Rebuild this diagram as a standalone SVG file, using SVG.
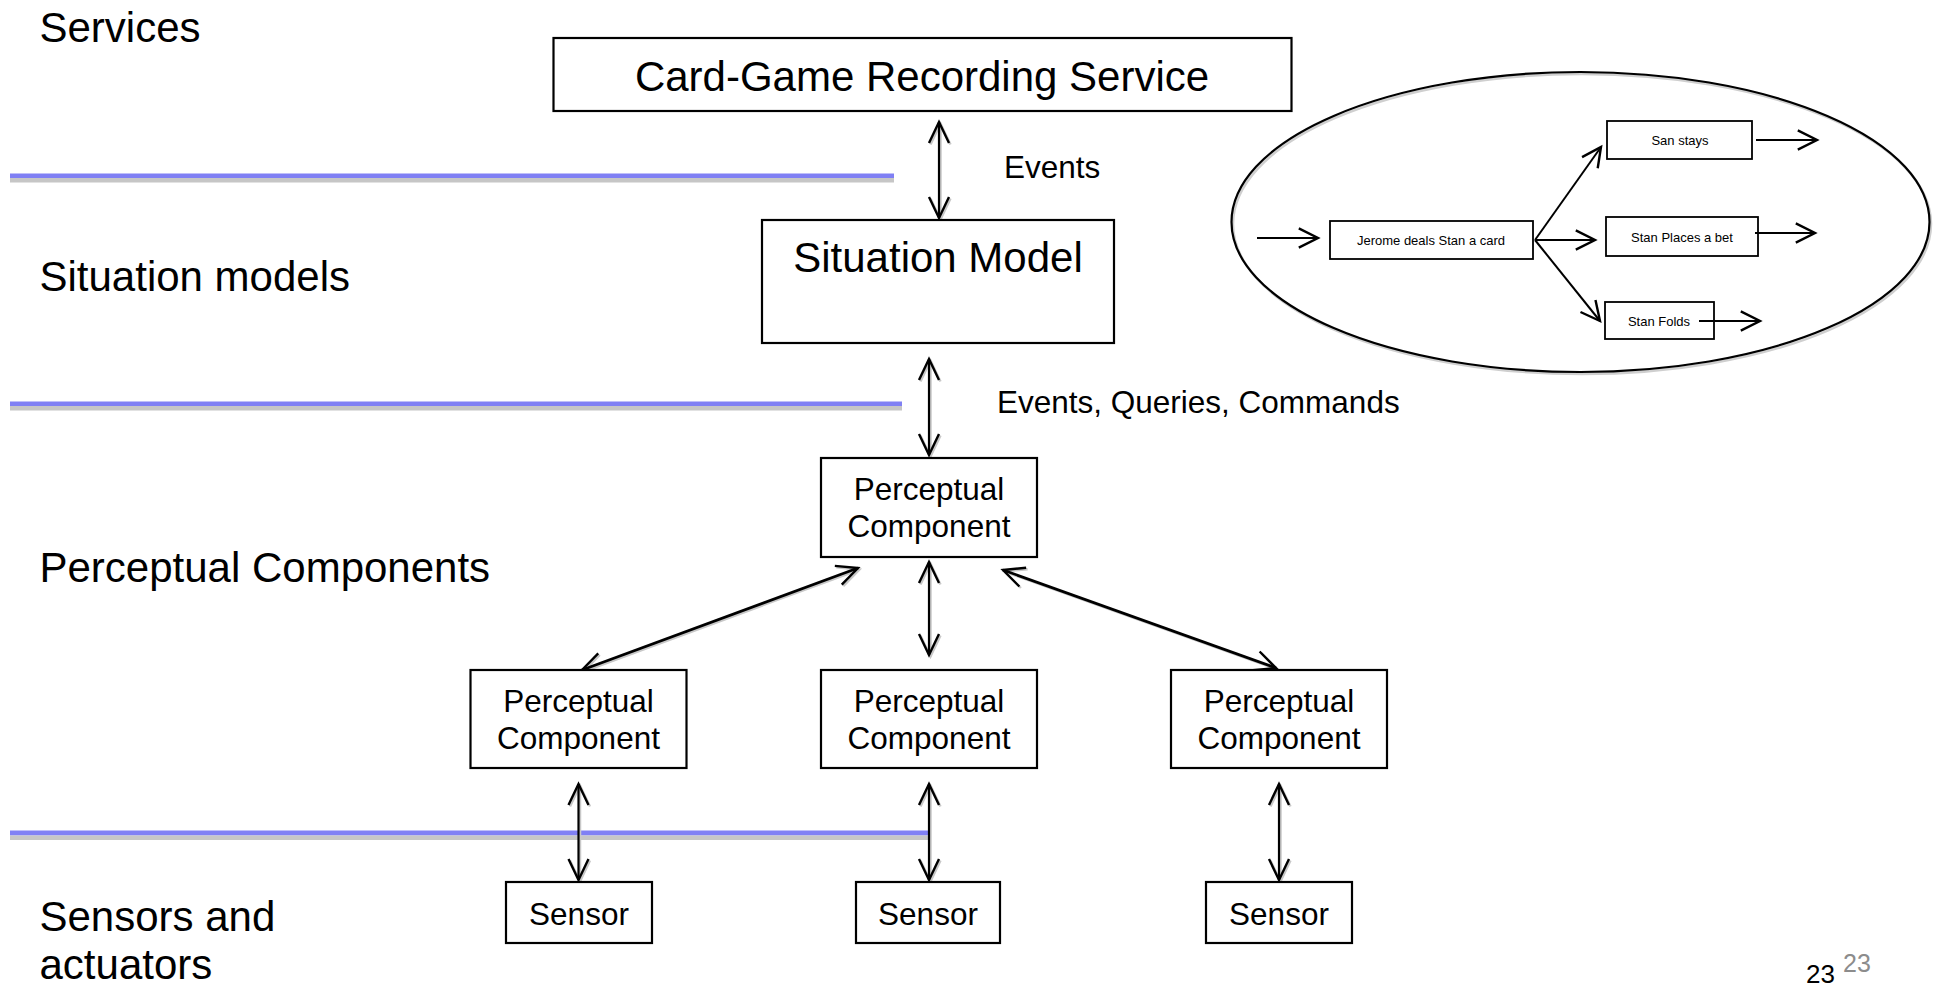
<svg xmlns="http://www.w3.org/2000/svg" width="1936" height="986" viewBox="0 0 1936 986">
  <defs>
    <style>
      .lbl { font-family: "Liberation Sans", Arial, sans-serif; font-size: 42px; fill: #000; }
      .big { font-family: "Liberation Sans", Arial, sans-serif; font-size: 42px; fill: #000; text-anchor: middle; }
      .mid { font-family: "Liberation Sans", Arial, sans-serif; font-size: 31.5px; fill: #000; text-anchor: middle; }
      .note { font-family: "Liberation Sans", Arial, sans-serif; font-size: 31.5px; fill: #000; }
      .small { font-family: "Liberation Sans", Arial, sans-serif; font-size: 13px; fill: #000; text-anchor: middle; }
      .box { fill: #fff; stroke: #000; stroke-width: 2.2; }
      .sbox { fill: #fff; stroke: #000; stroke-width: 1.8; }
      .arr { fill: none; stroke: #000; stroke-width: 2.2; marker-start: url(#head); marker-end: url(#head); }
      .arrd { fill: none; stroke: #000; stroke-width: 2.8; marker-start: url(#head); marker-end: url(#head); }
      .shd { fill: none; stroke: #c8c8c8; stroke-width: 2.5; marker-start: url(#heads); marker-end: url(#heads); }
      .iarr { fill: none; stroke: #000; stroke-width: 2; marker-end: url(#ihead); }
      .sepb { fill: #8080f4; }
      .sepg { fill: #c6c6c6; }
    </style>
    <marker id="head" markerUnits="userSpaceOnUse" markerWidth="30" markerHeight="30" refX="22" refY="11" orient="auto-start-reverse" viewBox="0 0 30 22">
      <path d="M1,1 L22,11 L1,21" fill="none" stroke="#000" stroke-width="2.4"/>
    </marker>
    <marker id="heads" markerUnits="userSpaceOnUse" markerWidth="30" markerHeight="30" refX="22" refY="11" orient="auto-start-reverse" viewBox="0 0 30 22">
      <path d="M1,1 L22,11 L1,21" fill="none" stroke="#c8c8c8" stroke-width="2.4"/>
    </marker>
    <marker id="ihead" markerUnits="userSpaceOnUse" markerWidth="24" markerHeight="24" refX="17" refY="9" orient="auto" viewBox="0 0 20 18">
      <path d="M1,1 L17,9 L1,17" fill="none" stroke="#000" stroke-width="2"/>
    </marker>
  </defs>
  <rect width="1936" height="986" fill="#fff"/>

  <g id="layer-labels">
    <text class="lbl" x="39.5" y="42">Services</text>
    <text class="lbl" x="39.5" y="291">Situation models</text>
    <text class="lbl" x="39.5" y="582">Perceptual Components</text>
    <text class="lbl" x="39.5" y="931">Sensors and</text>
    <text class="lbl" x="39.5" y="979">actuators</text>
  </g>

  <g id="separators">
    <rect class="sepb" x="10" y="173.5" width="884" height="4.5"/>
    <rect class="sepg" x="10" y="178" width="884" height="4.5"/>
    <rect class="sepb" x="10" y="401.5" width="892" height="4.5"/>
    <rect class="sepg" x="10" y="406" width="892" height="4.5"/>
    <rect class="sepb" x="10" y="830.5" width="920" height="5"/>
    <rect class="sepg" x="10" y="835.5" width="920" height="4.5"/>
  </g>

  <g id="connectors">
    <g transform="translate(1.5,1.5)">
      <line class="shd" x1="939" y1="122" x2="939" y2="218"/>
      <line class="shd" x1="929" y1="359" x2="929" y2="455"/>
      <line class="shd" x1="929" y1="562" x2="929" y2="655"/>
      <line class="shd" x1="858" y1="568" x2="582" y2="670"/>
      <line class="shd" x1="1003" y1="570" x2="1276" y2="668"/>
      <line class="shd" x1="578.5" y1="784" x2="578.5" y2="880"/>
      <line class="shd" x1="929" y1="784" x2="929" y2="880"/>
      <line class="shd" x1="1279" y1="784" x2="1279" y2="880"/>
    </g>
    <line class="arr" x1="939" y1="122" x2="939" y2="218"/>
    <line class="arr" x1="929" y1="359" x2="929" y2="455"/>
    <line class="arr" x1="929" y1="562" x2="929" y2="655"/>
    <line class="arrd" x1="858" y1="568" x2="582" y2="670"/>
    <line class="arrd" x1="1003" y1="570" x2="1276" y2="668"/>
    <line class="arr" x1="578.5" y1="784" x2="578.5" y2="880"/>
    <line class="arr" x1="929" y1="784" x2="929" y2="880"/>
    <line class="arr" x1="1279" y1="784" x2="1279" y2="880"/>
    <text class="note" x="1004" y="178">Events</text>
    <text class="note" x="997" y="413">Events, Queries, Commands</text>
  </g>

  <g id="card-game-service">
    <rect class="box" x="553.5" y="38" width="738" height="73"/>
    <text class="big" x="922" y="91">Card-Game Recording Service</text>
  </g>

  <g id="situation-model">
    <rect class="box" x="762" y="220" width="352" height="123"/>
    <text class="big" x="938" y="272">Situation Model</text>
  </g>

  <g id="pc-top">
    <rect class="box" x="821" y="458" width="216" height="99"/>
    <text class="mid" x="929" y="500">Perceptual</text>
    <text class="mid" x="929" y="537">Component</text>
  </g>

  <g id="pc-left">
    <rect class="box" x="470.5" y="670" width="216" height="98"/>
    <text class="mid" x="578.5" y="712">Perceptual</text>
    <text class="mid" x="578.5" y="749">Component</text>
  </g>

  <g id="pc-center">
    <rect class="box" x="821" y="670" width="216" height="98"/>
    <text class="mid" x="929" y="712">Perceptual</text>
    <text class="mid" x="929" y="749">Component</text>
  </g>

  <g id="pc-right">
    <rect class="box" x="1171" y="670" width="216" height="98"/>
    <text class="mid" x="1279" y="712">Perceptual</text>
    <text class="mid" x="1279" y="749">Component</text>
  </g>

  <g id="sensor-left">
    <rect class="box" x="506" y="882" width="146" height="61"/>
    <text class="mid" x="579" y="925">Sensor</text>
  </g>

  <g id="sensor-center">
    <rect class="box" x="856" y="882" width="144" height="61"/>
    <text class="mid" x="928" y="925">Sensor</text>
  </g>

  <g id="sensor-right">
    <rect class="box" x="1206" y="882" width="146" height="61"/>
    <text class="mid" x="1279" y="925">Sensor</text>
  </g>

  <g id="scenario">
    <ellipse cx="1582" cy="224" rx="349" ry="150" fill="none" stroke="#cfcfcf" stroke-width="2.5"/>
    <ellipse cx="1580.5" cy="222" rx="349" ry="150" fill="none" stroke="#000" stroke-width="2.2"/>
    <g id="scenario-connectors">
      <line class="iarr" x1="1257" y1="238" x2="1318" y2="238"/>
      <line class="iarr" x1="1535" y1="240" x2="1601" y2="147"/>
      <line class="iarr" x1="1535" y1="240" x2="1595" y2="240"/>
      <line class="iarr" x1="1535" y1="240" x2="1600" y2="321"/>
      <line class="iarr" x1="1756" y1="140" x2="1817" y2="140"/>
    </g>
    <g id="jerome">
      <rect class="sbox" x="1330" y="221" width="203" height="38"/>
      <text class="small" x="1431" y="245">Jerome deals Stan a card</text>
    </g>
    <g id="san-stays">
      <rect class="sbox" x="1607" y="121" width="145" height="38"/>
      <text class="small" x="1680" y="145">San stays</text>
    </g>
    <g id="stan-bet">
      <rect class="sbox" x="1606" y="217" width="152" height="39"/>
      <text class="small" x="1682" y="241.5">Stan Places a bet</text>
    </g>
    <g id="stan-folds">
      <rect class="sbox" x="1605" y="302" width="109" height="37"/>
      <text class="small" x="1659" y="326">Stan Folds</text>
    </g>
    <g id="scenario-out-connectors">
      <line class="iarr" x1="1699" y1="321" x2="1760" y2="321"/>
      <line class="iarr" x1="1755" y1="233" x2="1815" y2="233"/>
    </g>
  </g>

  <g id="page-number">
    <text x="1806" y="983" style="font-family:'Liberation Sans',Arial,sans-serif;font-size:26px;fill:#000">23</text>
    <text x="1843" y="972" style="font-family:'Liberation Sans',Arial,sans-serif;font-size:25px;fill:#8c8c8c">23</text>
  </g>
</svg>
